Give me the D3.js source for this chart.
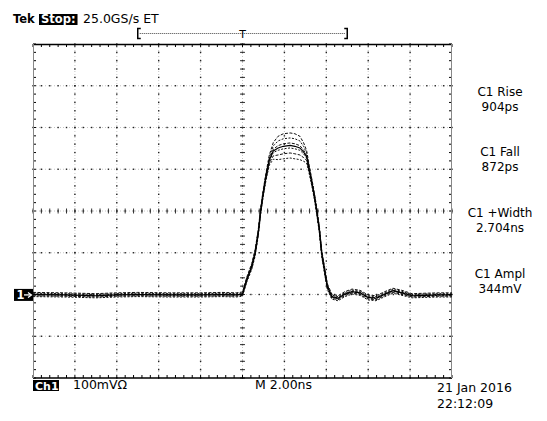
<!DOCTYPE html>
<html><head><meta charset="utf-8">
<script src="https://cdn.jsdelivr.net/npm/d3@7"></script>
<style>body{margin:0;background:#fff}svg{display:block}text{font-family:"DejaVu Sans",sans-serif;fill:#000}</style>
</head><body><svg id="c" width="547" height="421"></svg>
<script>
// ---- data (time in ns relative to trigger, voltage in mV above ground) ----
const times  = [-10,-8.5,-7,-6,-5,-3.5,-2,-1,-0.3,0,0.2,0.44,0.6,0.75,0.87,0.99,1.12,1.28,1.47,1.7,1.95,2.27,2.5,2.74,2.92,3.06,3.19,3.35,3.46,3.54,3.67,3.78,3.94,4.05,4.26,4.56,4.89,5.23,5.61,5.99,6.37,6.8,7.18,7.61,8.09,8.71,9.4,10];
const volts  = [1,0,-2,0,1,0,0,1,0,2,36,68,100,148,202,244,283,323,345,352,356,358,356,352,342,331,299,259,228,202,156,100,52,20,-4,-8,2,8,5,-6,-8,2,10,5,-2,-1,0,0];
const spread = [5,5,5,5,5,5,5,5,5,5,6,7,8,8,8,8,9,12,20,28,30,30,30,28,22,15,10,8,8,8,8,8,8,7,6,6,6,6,6,6,6,6,6,6,5,5,5,5];
const bandOffsets = [-1,-0.6,-0.2,0.2,0.6,1];
const measLabels = ["C1 Rise","C1 Fall","C1 +Width","C1 Ampl"];
const measValues = ["904ps","872ps","2.704ns","344mV"];
const headerTexts = ["Tek","Stop:","25.0GS/s ET"];
const footerTexts = ["Ch1","100mV\u03A9","M 2.00ns"];
const dateTexts = ["21 Jan 2016","22:12:09"];
const xDivs = 10, yDivs = 8, minorPerDiv = 5;
const secPerDiv = 2, mvPerDiv = 100, groundDiv = -2.01;

const svg = d3.select("#c");
const L=33,R=452,T=44,B=378;
const xd = d3.scaleLinear().domain([-xDivs/2,xDivs/2]).range([L,R]);
const yd = d3.scaleLinear().domain([-yDivs/2,yDivs/2]).range([B,T]);
const x = d3.scaleLinear().domain([-xDivs/2*secPerDiv,xDivs/2*secPerDiv]).range([L,R]);
const y = d3.scaleLinear().domain([(-yDivs/2-groundDiv)*mvPerDiv,(yDivs/2-groundDiv)*mvPerDiv]).range([B,T]);

const g = svg.append("g");
const xMaj = d3.range(-xDivs/2+1, xDivs/2);
const yMaj = d3.range(-yDivs/2+1, yDivs/2);
g.selectAll(".vg").data(xMaj).join("line").attr("x1",d=>xd(d)).attr("x2",d=>xd(d)).attr("y1",T).attr("y2",B)
 .attr("stroke","#c4c4c4").attr("stroke-width",1).attr("stroke-dasharray","1,2");
g.selectAll(".hg").data(yMaj).join("line").attr("y1",d=>yd(d)).attr("y2",d=>yd(d)).attr("x1",L).attr("x2",R)
 .attr("stroke","#c4c4c4").attr("stroke-width",1).attr("stroke-dasharray","1,2");
const xMinor = d3.range(-xDivs/2*minorPerDiv, xDivs/2*minorPerDiv+1).map(i=>i/minorPerDiv);
const yMinor = d3.range(-yDivs/2*minorPerDiv, yDivs/2*minorPerDiv+1).map(i=>i/minorPerDiv);
const dots=[];
xMaj.forEach(a=>yMinor.forEach(b=>dots.push([a,b])));
yMaj.forEach(b=>xMinor.forEach(a=>dots.push([a,b])));
g.selectAll(".dt").data(dots).join("rect").attr("x",d=>xd(d[0])-0.7).attr("y",d=>yd(d[1])-0.7)
 .attr("width",1.4).attr("height",1.4).attr("fill","#222");
g.selectAll(".ct1").data(xMinor).join("line").attr("x1",d=>xd(d)).attr("x2",d=>xd(d)).attr("y1",yd(0)-2.5).attr("y2",yd(0)+2.5).attr("stroke","#333");
g.selectAll(".ct2").data(yMinor).join("line").attr("y1",d=>yd(d)).attr("y2",d=>yd(d)).attr("x1",xd(0)-2.5).attr("x2",xd(0)+2.5).attr("stroke","#333");
g.selectAll(".tt").data(xMinor).join("line").attr("x1",d=>xd(d)).attr("x2",d=>xd(d)).attr("y1",T).attr("y2",T+3).attr("stroke","#000");
g.selectAll(".bt").data(xMinor).join("line").attr("x1",d=>xd(d)).attr("x2",d=>xd(d)).attr("y1",B).attr("y2",B-3).attr("stroke","#000");
g.selectAll(".lt").data(yMinor).join("line").attr("y1",d=>yd(d)).attr("y2",d=>yd(d)).attr("x1",L).attr("x2",L+3).attr("stroke","#000");
g.selectAll(".rt").data(yMinor).join("line").attr("y1",d=>yd(d)).attr("y2",d=>yd(d)).attr("x1",R).attr("x2",R-3).attr("stroke","#000");
g.append("line").attr("x1",L).attr("x2",R).attr("y1",T+0.5).attr("y2",T+0.5).attr("stroke","#000").attr("stroke-width",1.5);
g.append("line").attr("x1",L).attr("x2",R).attr("y1",B).attr("y2",B).attr("stroke","#000").attr("stroke-width",1.5);
g.append("line").attr("x1",L+0.5).attr("x2",L+0.5).attr("y1",T).attr("y2",B).attr("stroke","#888");
g.append("line").attr("x1",R-0.5).attr("x2",R-0.5).attr("y1",T).attr("y2",B).attr("stroke","#888");

// waveform band
const pts = times.map((t,i)=>({t,v:volts[i],s:spread[i]}));
bandOffsets.forEach((k,j)=>{
  const line = d3.line().x(d=>x(d.t)).y(d=>y(d.v+k*d.s));
  svg.append("path").datum(pts).attr("d",line).attr("fill","none").attr("stroke","#111")
    .attr("stroke-width",1).attr("stroke-dasharray", j%2? "3,1.5":"2,1.5");
});
svg.append("path").datum(pts).attr("d",d3.line().x(d=>x(d.t)).y(d=>y(d.v))).attr("fill","none").attr("stroke","#000").attr("stroke-width",1.2);

// ground marker
const gy = y(0);
svg.append("rect").attr("x",14).attr("y",gy-6).attr("width",19).attr("height",12).attr("fill","#000");
svg.append("text").attr("x",16.5).attr("y",gy+4.5).style("fill","#fff").style("font-size","11.5px").style("font-weight","bold").text("1");
svg.append("line").attr("x1",24).attr("x2",31).attr("y1",gy).attr("y2",gy).attr("stroke","#fff").attr("stroke-width",1.3);
svg.append("path").attr("d",`M28,${gy-2.5}L31.5,${gy}L28,${gy+2.5}`).attr("fill","none").attr("stroke","#fff").attr("stroke-width",1.2);

// header
const fs="12.5px";
svg.append("text").attr("x",13).attr("y",23).style("font-size","11.5px").style("font-weight","bold").text(headerTexts[0]);
const st = svg.append("text").attr("x",41).attr("y",23).style("font-size","11.5px").style("font-weight","bold").text(headerTexts[1]);
const sb = st.node().getBBox();
svg.insert("rect","text:last-of-type").attr("x",sb.x-2).attr("y",14).attr("width",sb.width+4).attr("height",11).attr("fill","#000");
st.raise().style("fill","#fff");
svg.append("text").attr("x",83).attr("y",23).style("font-size",fs).text(headerTexts[2]);
const bx0 = x(-5), bx1 = x(5);
svg.append("path").attr("d",`M${bx0+3},28.5H${bx0}V38.5H${bx0+3}`).attr("fill","none").attr("stroke","#000").attr("stroke-width",1.5);
svg.append("path").attr("d",`M${bx1-3},28.5H${bx1}V38.5H${bx1-3}`).attr("fill","none").attr("stroke","#000").attr("stroke-width",1.5);
svg.append("line").attr("x1",bx0+2).attr("x2",bx1-2).attr("y1",33.5).attr("y2",33.5).attr("stroke","#444").attr("stroke-dasharray","1,1");
svg.append("text").attr("x",x(0)).attr("y",38).attr("text-anchor","middle").style("font-size","11px").text("T");

// measurements
const mY=[96,156,217,278];
measLabels.forEach((m,i)=>{
  svg.append("text").attr("x",500).attr("y",mY[i]).attr("text-anchor","middle").style("font-size","12px").text(m);
  svg.append("text").attr("x",500).attr("y",mY[i]+14.5).attr("text-anchor","middle").style("font-size","12px").text(measValues[i]);
});

// footer
svg.append("rect").attr("x",33).attr("y",380).attr("width",26).attr("height",11).attr("fill","#000");
svg.append("text").attr("x",35).attr("y",389.5).style("fill","#fff").style("font-size","11px").style("font-weight","bold").text(footerTexts[0]);
svg.append("text").attr("x",73).attr("y",389).style("font-size",fs).text(footerTexts[1]);
svg.append("text").attr("x",255).attr("y",389).style("font-size",fs).text(footerTexts[2]);
svg.append("text").attr("x",437).attr("y",392).style("font-size",fs).text(dateTexts[0]);
svg.append("text").attr("x",437).attr("y",408).style("font-size",fs).text(dateTexts[1]);
</script></body></html>
